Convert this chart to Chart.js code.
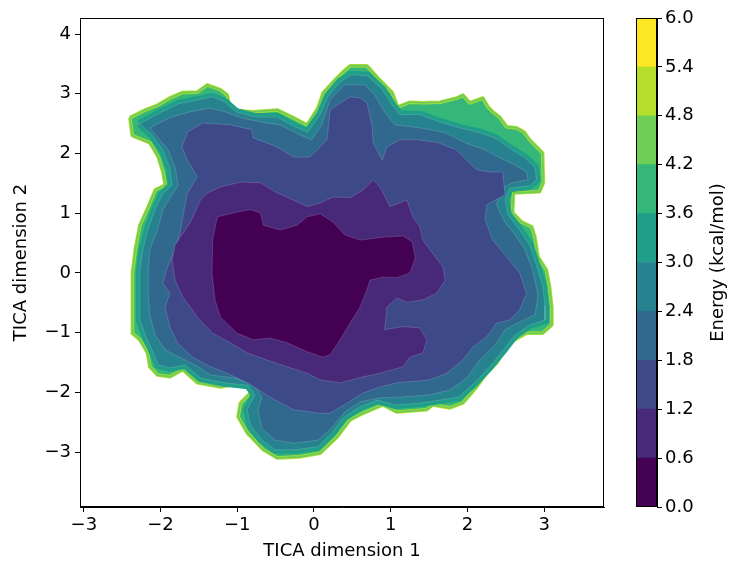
<!DOCTYPE html>
<html>
<head>
<meta charset="utf-8">
<script src="https://cdn.jsdelivr.net/npm/chart.js@4.4.1/dist/chart.umd.min.js"></script>
<style>
html, body { margin: 0; padding: 0; background: #fff; }
#wrap { position: relative; width: 731px; height: 563px; }
#wrap canvas { position: absolute; left: 0; top: 0; }
</style>
</head>
<body>
<div id="wrap">
  <canvas id="landscape" width="731" height="563"></canvas>
  <canvas id="colorbar" width="731" height="563"></canvas>
</div>
<script>
// axis ticks
const xTicks = [-3, -2, -1, 0, 1, 2, 3];
const yTicks = [-3, -2, -1, 0, 1, 2, 3, 4];

// contour levels (kcal/mol) and their fill colours
const energyLevels = [0.0, 0.6, 1.2, 1.8, 2.4, 3.0, 3.6, 4.2, 4.8, 5.4, 6.0];
const levelColors = ['#440154', '#482878', '#3e4989', '#31688e', '#26828e',
                     '#1f9e89', '#35b779', '#6ece58', '#b5de2b', '#fde725'];

// contour outlines, [TICA 1, TICA 2]
const edgeOuter = [[-2.40,2.60],[-2.20,2.73],[-2.04,2.81],[-1.88,2.93],[-1.72,3.02],[-1.52,3.03],[-1.39,3.15],[-1.22,3.07],[-1.13,2.98],[-1.09,2.73],[-0.79,2.70],[-0.48,2.73],[-0.27,2.60],[-0.09,2.48],[0.05,2.76],[0.12,3.02],[0.27,3.23],[0.38,3.37],[0.47,3.47],[0.69,3.47],[0.86,3.23],[1.02,3.02],[1.09,2.78],[1.25,2.86],[1.42,2.85],[1.64,2.86],[1.86,2.93],[1.94,2.98],[2.03,2.85],[2.20,2.93],[2.27,2.78],[2.33,2.70],[2.42,2.61],[2.51,2.45],[2.64,2.43],[2.74,2.36],[2.81,2.23],[2.92,2.09],[2.98,2.01],[2.99,1.51],[2.94,1.36],[2.60,1.34],[2.59,1.01],[2.71,0.85],[2.84,0.77],[2.88,0.60],[2.92,0.27],[3.03,0.05],[3.07,-0.23],[3.10,-0.57],[3.10,-0.87],[2.98,-1.01],[2.77,-1.01],[2.55,-1.17],[2.38,-1.51],[2.25,-1.68],[2.12,-1.91],[1.94,-2.18],[1.77,-2.26],[1.55,-2.21],[1.47,-2.29],[1.08,-2.33],[0.90,-2.21],[0.64,-2.35],[0.47,-2.46],[0.30,-2.75],[0.08,-3.02],[-0.18,-3.08],[-0.48,-3.10],[-0.66,-2.96],[-0.87,-2.68],[-0.99,-2.41],[-0.96,-2.18],[-0.79,-1.96],[-0.92,-1.84],[-1.22,-1.91],[-1.52,-1.84],[-1.71,-1.62],[-1.88,-1.74],[-2.04,-1.71],[-2.14,-1.57],[-2.17,-1.34],[-2.27,-1.12],[-2.37,-1.01],[-2.37,-0.74],[-2.36,-0.40],[-2.37,0.00],[-2.33,0.39],[-2.27,0.80],[-2.16,1.11],[-2.07,1.39],[-1.94,1.47],[-1.97,1.69],[-2.03,1.94],[-2.14,2.18],[-2.37,2.30]];

const contour30 = [[-2.27,2.50],[-2.01,2.68],[-1.77,2.83],[-1.51,2.90],[-1.33,2.95],[-1.16,2.86],[-1.02,2.70],[-0.77,2.61],[-0.48,2.61],[-0.27,2.46],[-0.08,2.36],[0.08,2.65],[0.18,2.95],[0.34,3.20],[0.49,3.32],[0.70,3.30],[0.89,3.07],[1.02,2.81],[1.12,2.65],[1.38,2.65],[1.64,2.53],[1.90,2.43],[2.16,2.35],[2.36,2.26],[2.55,2.09],[2.75,1.93],[2.88,1.76],[2.90,1.56],[2.81,1.46],[2.55,1.42],[2.49,1.22],[2.53,0.97],[2.68,0.72],[2.81,0.47],[2.90,0.13],[2.98,-0.20],[3.01,-0.54],[3.01,-0.79],[2.81,-0.87],[2.62,-1.04],[2.45,-1.32],[2.29,-1.57],[2.10,-1.83],[1.88,-2.08],[1.64,-2.13],[1.38,-2.18],[1.05,-2.21],[0.83,-2.13],[0.60,-2.24],[0.38,-2.43],[0.23,-2.68],[0.05,-2.91],[-0.25,-2.96],[-0.51,-2.96],[-0.68,-2.80],[-0.83,-2.55],[-0.87,-2.29],[-0.77,-2.04],[-0.86,-1.88],[-1.16,-1.84],[-1.48,-1.76],[-1.68,-1.54],[-1.88,-1.59],[-2.03,-1.54],[-2.11,-1.29],[-2.20,-1.04],[-2.27,-0.79],[-2.27,-0.37],[-2.27,0.05],[-2.23,0.39],[-2.16,0.75],[-2.07,1.06],[-1.98,1.31],[-1.85,1.47],[-1.88,1.76],[-1.97,2.06],[-2.11,2.31]];

const contour24 = [[-2.14,2.43],[-1.88,2.60],[-1.61,2.70],[-1.35,2.76],[-1.16,2.70],[-0.96,2.60],[-0.70,2.53],[-0.44,2.48],[-0.18,2.31],[-0.03,2.23],[0.10,2.48],[0.21,2.90],[0.40,3.15],[0.66,3.15],[0.79,2.98],[0.92,2.70],[1.05,2.48],[1.38,2.43],[1.71,2.35],[1.97,2.18],[2.23,2.06],[2.42,1.93],[2.62,1.81],[2.77,1.69],[2.79,1.56],[2.58,1.51],[2.42,1.39],[2.38,1.14],[2.49,0.85],[2.62,0.64],[2.75,0.39],[2.85,0.05],[2.92,-0.37],[2.88,-0.70],[2.68,-0.82],[2.49,-0.95],[2.36,-1.21],[2.16,-1.46],[1.99,-1.76],[1.77,-1.96],[1.51,-2.04],[1.12,-2.08],[0.86,-2.09],[0.60,-2.16],[0.40,-2.33],[0.23,-2.60],[0.05,-2.80],[-0.25,-2.85],[-0.51,-2.80],[-0.68,-2.60],[-0.73,-2.29],[-0.68,-2.09],[-0.77,-1.88],[-1.03,-1.76],[-1.35,-1.71],[-1.55,-1.54],[-1.74,-1.42],[-1.94,-1.29],[-2.07,-1.04],[-2.14,-0.70],[-2.16,-0.37],[-2.16,0.05],[-2.14,0.39],[-2.04,0.72],[-1.97,1.06],[-1.85,1.31],[-1.77,1.47],[-1.81,1.76],[-1.90,2.06],[-2.03,2.26]];

const contour18 = [[-1.65,2.36],[-1.45,2.51],[-1.09,2.48],[-0.81,2.40],[-0.79,2.26],[-0.48,2.11],[-0.27,1.94],[-0.05,1.94],[0.17,2.23],[0.21,2.73],[0.47,2.95],[0.60,2.93],[0.69,2.85],[0.76,2.45],[0.77,2.18],[0.89,1.89],[0.95,2.11],[1.12,2.23],[1.34,2.23],[1.60,2.19],[1.86,2.06],[1.99,1.89],[2.12,1.73],[2.29,1.69],[2.46,1.69],[2.49,1.31],[2.25,1.14],[2.23,0.89],[2.33,0.55],[2.51,0.27],[2.68,0.00],[2.77,-0.34],[2.68,-0.62],[2.55,-0.79],[2.38,-0.84],[2.25,-1.07],[2.07,-1.24],[1.94,-1.46],[1.73,-1.68],[1.51,-1.79],[1.08,-1.84],[0.86,-1.91],[0.64,-2.01],[0.43,-2.18],[0.21,-2.35],[0.08,-2.35],[-0.27,-2.29],[-0.57,-2.08],[-0.87,-1.84],[-1.13,-1.68],[-1.35,-1.57],[-1.58,-1.41],[-1.78,-1.17],[-1.88,-0.90],[-1.94,-0.57],[-1.88,-0.34],[-1.97,-0.17],[-1.91,0.10],[-1.81,0.39],[-1.74,0.72],[-1.71,0.94],[-1.65,1.34],[-1.52,1.61],[-1.65,1.89],[-1.72,2.11]];

const contour12 = [[-1.48,1.22],[-1.39,1.34],[-1.22,1.44],[-0.96,1.52],[-0.70,1.51],[-0.48,1.34],[-0.27,1.22],[-0.09,1.11],[0.08,1.17],[0.25,1.27],[0.47,1.26],[0.64,1.39],[0.77,1.56],[0.86,1.44],[0.99,1.11],[1.21,1.22],[1.29,0.94],[1.38,0.77],[1.42,0.55],[1.51,0.39],[1.68,0.10],[1.71,-0.12],[1.60,-0.34],[1.42,-0.45],[1.21,-0.49],[1.08,-0.42],[0.95,-0.57],[0.92,-0.95],[1.16,-0.90],[1.38,-0.92],[1.47,-1.12],[1.42,-1.34],[1.25,-1.41],[1.16,-1.57],[0.86,-1.68],[0.64,-1.74],[0.34,-1.84],[0.08,-1.79],[-0.09,-1.68],[-0.35,-1.57],[-0.61,-1.46],[-0.87,-1.34],[-1.09,-1.17],[-1.32,-1.01],[-1.52,-0.74],[-1.71,-0.40],[-1.81,-0.12],[-1.85,0.22],[-1.81,0.47],[-1.72,0.64],[-1.61,0.85]];

const contour06 = [[-1.26,0.94],[-1.00,1.02],[-0.83,1.06],[-0.70,1.01],[-0.66,0.80],[-0.44,0.72],[-0.22,0.80],[-0.09,0.94],[0.08,0.99],[0.25,0.85],[0.40,0.64],[0.60,0.55],[0.92,0.60],[1.16,0.62],[1.28,0.52],[1.32,0.25],[1.25,0.00],[1.08,-0.08],[0.90,-0.07],[0.73,-0.12],[0.69,-0.28],[0.60,-0.57],[0.47,-0.84],[0.34,-1.12],[0.21,-1.37],[0.12,-1.41],[-0.09,-1.32],[-0.35,-1.17],[-0.57,-1.09],[-0.79,-1.12],[-1.00,-1.01],[-1.22,-0.74],[-1.29,-0.45],[-1.33,0.00],[-1.32,0.55]];

const toPoints = arr => arr.concat([arr[0]]).map(([x, y]) => ({ x, y }));

function band(outline, fillColor, lineColor, lineWidth, filled) {
    return {
        data: toPoints(outline),
        fill: filled === false ? false : 'shape',
        backgroundColor: fillColor,
        borderColor: lineColor,
        borderWidth: lineWidth,
        borderJoinStyle: 'round',
        pointRadius: 0,
        tension: 0
    };
}

const minusSign = v => (v < 0 ? '\u2212' : '') + Math.abs(v);

// black box round the plotting area
const framePlugin = {
    id: 'frame',
    afterDraw(chart) {
        const { ctx, chartArea: a } = chart;
        ctx.save();
        ctx.strokeStyle = '#000';
        ctx.lineWidth = 1;
        ctx.strokeRect(a.left + 0.5, a.top + 0.5, a.right - a.left - 1, a.bottom - a.top - 1);
        ctx.restore();
    }
};

Chart.defaults.font.family = "'DejaVu Sans', sans-serif";
Chart.defaults.font.size = 18;
Chart.defaults.color = '#000';

document.addEventListener('DOMContentLoaded', function() {
    // bottom layer first
    const layers = [
        band(edgeOuter, levelColors[6], levelColors[8], 3.6),
        band(edgeOuter, levelColors[7], levelColors[7], 2, false),
        band(contour30, levelColors[5], levelColors[5], 8, false),
        band(contour30, levelColors[4], 'rgba(255,255,255,0.2)', 0.8),
        band(contour24, levelColors[3], 'rgba(255,255,255,0.2)', 0.8),
        band(contour18, levelColors[2], 'rgba(255,255,255,0.2)', 0.8),
        band(contour12, levelColors[1], 'rgba(255,255,255,0.2)', 0.8),
        band(contour06, levelColors[0], 'rgba(255,255,255,0.2)', 0.8)
    ];
    layers.forEach((d, i) => { d.order = layers.length - i; });

    new Chart(document.getElementById('landscape'), {
        type: 'line',
        data: { datasets: layers },
        options: {
            responsive: false,
            animation: false,
            events: [],
            layout: { padding: { left: 0, right: 127, top: 18, bottom: 0 } },
            plugins: { legend: { display: false }, tooltip: { enabled: false } },
            scales: {
                x: {
                    type: 'linear',
                    min: -3.05,
                    max: 3.78,
                    afterBuildTicks: s => { s.ticks = xTicks.map(v => ({ value: v })); },
                    afterFit: s => { s.height = 56; },
                    grid: { drawOnChartArea: false, color: '#000', tickLength: 5 },
                    border: { color: '#000', width: 1 },
                    ticks: { padding: 3, maxRotation: 0, autoSkip: false, callback: minusSign },
                    title: { display: true, text: 'TICA dimension 1', padding: { top: 0, bottom: 1 } }
                },
                y: {
                    type: 'linear',
                    min: -3.92,
                    max: 4.27,
                    afterBuildTicks: s => { s.ticks = yTicks.map(v => ({ value: v })); },
                    afterFit: s => { s.width = 80; },
                    grid: { drawOnChartArea: false, color: '#000', tickLength: 5 },
                    border: { color: '#000', width: 1 },
                    ticks: { padding: 4, autoSkip: false, callback: minusSign },
                    title: { display: true, text: 'TICA dimension 2', padding: { top: 11, bottom: 0 } }
                }
            }
        },
        plugins: [framePlugin]
    });

    // colour bar
    const cbLabel = {
        id: 'cbLabel',
        afterDraw(chart) {
            const { ctx, chartArea: a } = chart;
            ctx.save();
            ctx.translate(a.right + 61, (a.top + a.bottom) / 2);
            ctx.rotate(-Math.PI / 2);
            ctx.font = "18px 'DejaVu Sans', sans-serif";
            ctx.fillStyle = '#000';
            ctx.textAlign = 'center';
            ctx.textBaseline = 'middle';
            ctx.fillText('Energy (kcal/mol)', 0, 0);
            ctx.restore();
        }
    };

    new Chart(document.getElementById('colorbar'), {
        type: 'bar',
        data: {
            labels: ['energy'],
            datasets: levelColors.map((c, i) => ({
                data: [[energyLevels[i], energyLevels[i + 1]]],
                backgroundColor: c,
                borderWidth: 0,
                grouped: false,
                barPercentage: 1,
                categoryPercentage: 1
            }))
        },
        options: {
            responsive: false,
            animation: false,
            events: [],
            layout: { padding: { left: 636, right: 0, top: 18, bottom: 56 } },
            plugins: { legend: { display: false }, tooltip: { enabled: false } },
            scales: {
                x: { display: false },
                y: {
                    position: 'right',
                    min: 0,
                    max: 6,
                    afterBuildTicks: s => { s.ticks = energyLevels.map(v => ({ value: v })); },
                    afterFit: s => { s.width = 74; },
                    grid: { drawOnChartArea: false, color: '#000', tickLength: 5 },
                    border: { color: '#000', width: 1 },
                    ticks: { padding: 3, autoSkip: false, callback: v => v.toFixed(1) }
                }
            }
        },
        plugins: [framePlugin, cbLabel]
    });
});
</script>
</body>
</html>
